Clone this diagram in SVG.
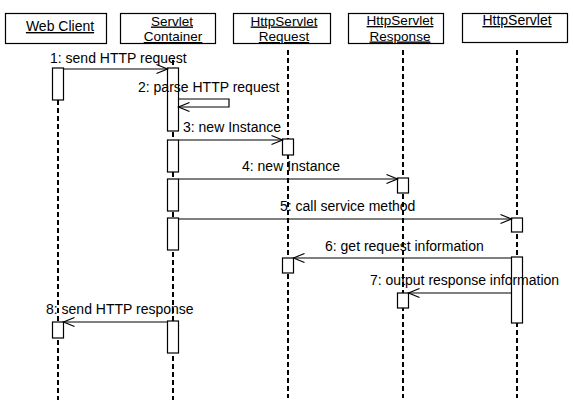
<svg xmlns="http://www.w3.org/2000/svg" width="573" height="415" viewBox="0 0 573 415">
<style>
  .box { fill: #fff; stroke: #000; stroke-width: 1.2; }
  .lbl { font-family: "Liberation Sans", Arial, sans-serif; font-size: 14px; fill: #000; }
  .hd { text-anchor: middle; text-decoration: underline; }
  .hd2 { font-size: 13.5px; }
  .life { stroke: #000; stroke-width: 2; stroke-dasharray: 5 3; fill: none; }
  .act { fill: #fff; stroke: #000; stroke-width: 1.2; }
  .msg { stroke: #000; stroke-width: 1.2; fill: none; marker-end: url(#open); }
</style>
<defs>
  <marker id="open" viewBox="-12 -6 14 12" markerWidth="14" markerHeight="12" refX="0" refY="0" orient="auto" markerUnits="userSpaceOnUse">
    <path d="M-11,-4.5 L0,0 L-11,4.5" fill="none" stroke="#000" stroke-width="1.2"/>
  </marker>
</defs>
<rect width="573" height="415" fill="#fff"/>

<g id="lifelines">
  <line class="life" x1="58" y1="68" x2="58" y2="400"/>
  <line class="life" x1="173" y1="60" x2="173" y2="400"/>
  <line class="life" x1="288" y1="50" x2="288" y2="398"/>
  <line class="life" x1="403" y1="50" x2="403" y2="398"/>
  <line class="life" x1="517" y1="50" x2="517" y2="398"/>
</g>

<g id="web-client">
  <rect class="box" x="5.5" y="13.5" width="101" height="30"/>
  <text class="lbl hd" x="60" y="31">Web Client</text>
  <rect class="act" x="52.5" y="68" width="11" height="32"/>
  <rect class="act" x="52.5" y="322" width="11" height="16"/>
</g>

<g id="servlet-container">
  <rect class="box" x="120.5" y="13.5" width="95" height="30"/>
  <text class="lbl hd hd2" x="172" y="25.5">Servlet</text>
  <text class="lbl hd hd2" x="173" y="41">Container</text>
  <rect class="act" x="167.5" y="68" width="11" height="63"/>
  <rect class="act" x="167.5" y="140" width="11" height="32"/>
  <rect class="act" x="167.5" y="179" width="11" height="32"/>
  <rect class="act" x="167.5" y="218" width="11" height="32"/>
  <rect class="act" x="167.5" y="321" width="11" height="32"/>
</g>

<g id="http-servlet-request">
  <rect class="box" x="233.5" y="13.5" width="97" height="30"/>
  <text class="lbl hd hd2" x="284" y="25.5">HttpServlet</text>
  <text class="lbl hd hd2" x="284" y="41">Request</text>
  <rect class="act" x="282.5" y="139" width="11" height="16"/>
  <rect class="act" x="282.5" y="258" width="11" height="15"/>
</g>

<g id="http-servlet-response">
  <rect class="box" x="348.5" y="13.5" width="95" height="30"/>
  <text class="lbl hd hd2" x="400" y="25">HttpServlet</text>
  <text class="lbl hd hd2" x="400" y="40.5">Response</text>
  <rect class="act" x="397.5" y="178" width="11" height="15"/>
  <rect class="act" x="397.5" y="293" width="11" height="15"/>
</g>

<g id="http-servlet">
  <rect class="box" x="462.5" y="13.5" width="105" height="29"/>
  <text class="lbl hd" x="517" y="25">HttpServlet</text>
  <rect class="act" x="511.5" y="218" width="11" height="14"/>
  <rect class="act" x="511.5" y="257" width="11" height="66"/>
</g>

<g id="connectors">
  <line class="msg" x1="63.5" y1="69" x2="167.5" y2="69"/>
  <text class="lbl" x="50" y="63">1: send HTTP request</text>

  <path class="msg" d="M178.5,99 H229 V107 H178.5"/>
  <text class="lbl" x="138" y="92">2: parse HTTP request</text>

  <line class="msg" x1="178.5" y1="140" x2="282.5" y2="140"/>
  <text class="lbl" x="183" y="132">3: new Instance</text>

  <line class="msg" x1="178.5" y1="179" x2="397.5" y2="179"/>
  <text class="lbl" x="242" y="171">4: new Instance</text>

  <line class="msg" x1="178.5" y1="219" x2="511.5" y2="219"/>
  <text class="lbl" x="280" y="211">5: call service method</text>

  <line class="msg" x1="511.5" y1="258" x2="293.5" y2="258"/>
  <text class="lbl" x="325" y="251">6: get request information</text>

  <line class="msg" x1="511.5" y1="293" x2="408.5" y2="293"/>
  <text class="lbl" x="370" y="285">7: output response information</text>

  <line class="msg" x1="167.5" y1="322" x2="63.5" y2="322"/>
  <text class="lbl" x="46" y="314">8: send HTTP response</text>
</g>
</svg>
